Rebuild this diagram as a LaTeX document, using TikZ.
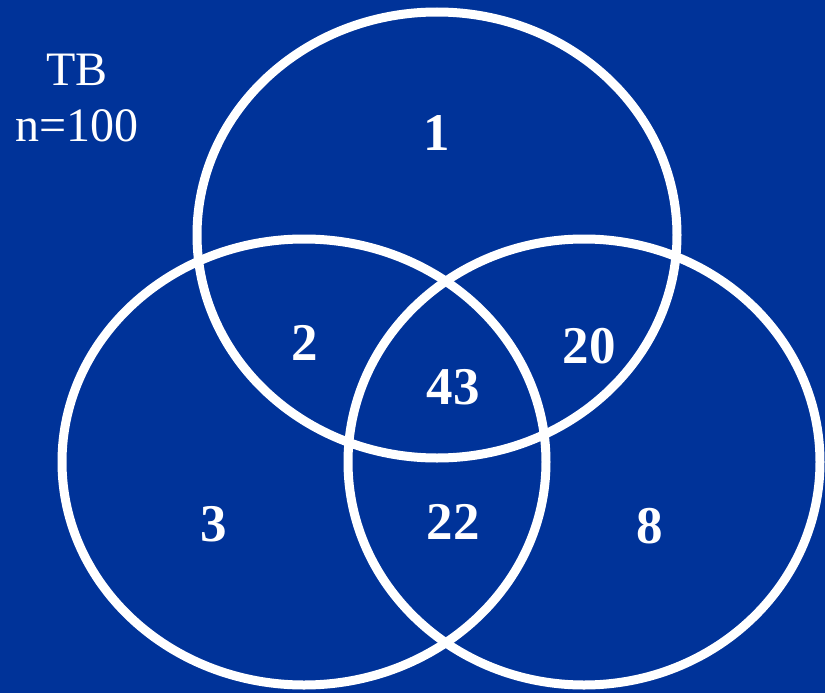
\documentclass[tikz,border=0pt]{standalone}
\usepackage{fontspec}
\setmainfont{Liberation Serif}
\usetikzlibrary{positioning}
\definecolor{bgblue}{HTML}{003399}
\definecolor{ringc}{HTML}{FFFFFF}
\definecolor{txt}{HTML}{FFFFFF}

\begin{document}
\begin{tikzpicture}[
  x=1pt, y=-1pt,
  every node/.style={text=txt},
  ring/.style={draw=ringc, line width=9pt},
  cnt/.style={font=\fontsize{53}{53}\selectfont\bfseries, inner sep=0pt},
  lbl/.style={font=\fontsize{48}{56}\selectfont, align=center, inner sep=0pt},
]
% --- canvas ---
\fill[bgblue] (0,0) rectangle (825,693);
\useasboundingbox (0,0) rectangle (825,693);
% --- ellipse centres ---
\def\rx{240} \def\ry{223}
\coordinate (ctop)   at (437,235);
\coordinate (cleft)  at (304,462);
\coordinate (cright) at (584,462);
% --- rings ---
\draw[ring] (ctop)   ellipse ({\rx} and {\ry});
\draw[ring] (cleft)  ellipse ({\rx+2} and {\ry});
\draw[ring] (cright) ellipse ({\rx-4} and {\ry});
% --- labels ---
\node[lbl] (title) at (77,98) {TB\\n=100};
% region counts
\node[cnt] (only1) at (437,133) {1};
\node[cnt] (r12)   at (305,343) {2};
\node[cnt] (r123)  at (453,387) {43};
\node[cnt] (r13)   at (589,346) {20};
\node[cnt] (only2) at (214,524) {3};
\node[cnt] (r23)   at (453,522) {22};
\node[cnt] (only3) at (650,526) {8};
\end{tikzpicture}
\end{document}
